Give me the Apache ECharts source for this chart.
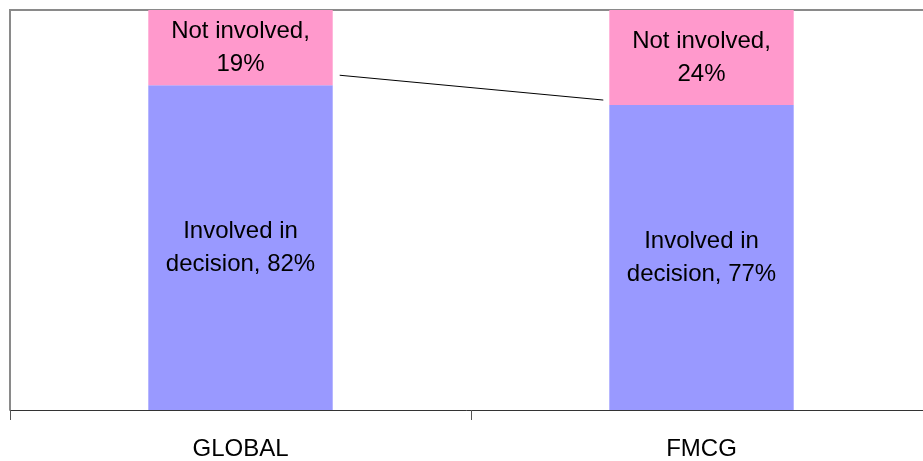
<!DOCTYPE html>
<html>
<head>
<meta charset="utf-8">
<script src="https://cdn.jsdelivr.net/npm/echarts@6/dist/echarts.min.js"></script>
<style>
  html, body { margin: 0; padding: 0; background: #fff; }
  #chart { width: 923px; height: 461px; }
</style>
</head>
<body>
<div id="chart"></div>
<script>
// categories and shares (%)
const categories = ['GLOBAL', 'FMCG']
const involved = [82, 77]
const notInvolved = [19, 24]
const involvedName = 'Involved in\ndecision'
const notInvolvedName = 'Not involved'

const chart = echarts.init(document.getElementById('chart'))
const total = Math.max(...involved.map((v, i) => v + notInvolved[i]))

const labelFont = {
  color: '#000',
  fontFamily: 'Liberation Sans',
  fontSize: 24,
  lineHeight: 33
}

const option = {
  animation: false,
  grid: {
    left: 10,
    right: -9,
    top: 10,
    bottom: 51,
    outerBoundsMode: 'none'
  },
  xAxis: {
    type: 'category',
    data: categories,
    axisLine: {
      lineStyle: { color: '#333', width: 1 }
    },
    axisTick: {
      show: true,
      length: 10,
      lineStyle: { color: '#555' }
    },
    axisLabel: {
      color: '#000',
      fontFamily: 'Liberation Sans',
      fontSize: 24,
      margin: 27
    }
  },
  yAxis: {
    type: 'value',
    min: 0,
    max: total,
    axisLine: { show: false },
    axisTick: { show: false },
    axisLabel: { show: false },
    splitLine: { show: false }
  },
  graphic: [
    // plot area border (left and top)
    {
      type: 'polyline',
      shape: { points: [[10, 410], [10, 10], [923, 10]] },
      style: { stroke: '#8a8a8a', lineWidth: 2, fill: null }
    }
  ],
  series: [
    {
      name: 'involved',
      type: 'bar',
      stack: 'total',
      barWidth: '40%',
      data: involved,
      itemStyle: { color: '#9999ff' },
      label: {
        show: true,
        position: 'inside',
        ...labelFont,
        formatter: p => involvedName + ', ' + p.value + '%'
      }
    },
    {
      name: 'notInvolved',
      type: 'bar',
      stack: 'total',
      barWidth: '40%',
      data: notInvolved,
      itemStyle: { color: '#ff99cc' },
      label: {
        show: true,
        position: 'inside',
        ...labelFont,
        formatter: p => notInvolvedName + ',\n' + p.value + '%'
      }
    },
    {
      // series line between the bars
      type: 'custom',
      silent: true,
      z: 5,
      data: [[0, involved[0], 1, involved[1]]],
      renderItem: (params, api) => {
        const a = api.coord([api.value(0), api.value(1)])
        const b = api.coord([api.value(2), api.value(3)])
        const half = api.size([1, 0])[0] * 0.2
        return {
          type: 'line',
          shape: { x1: a[0] + half + 7, y1: a[1] - 10, x2: b[0] - half - 6, y2: b[1] - 5 },
          style: { stroke: '#000', lineWidth: 1 }
        }
      }
    }
  ]
}
chart.setOption(option)
</script>
</body>
</html>
